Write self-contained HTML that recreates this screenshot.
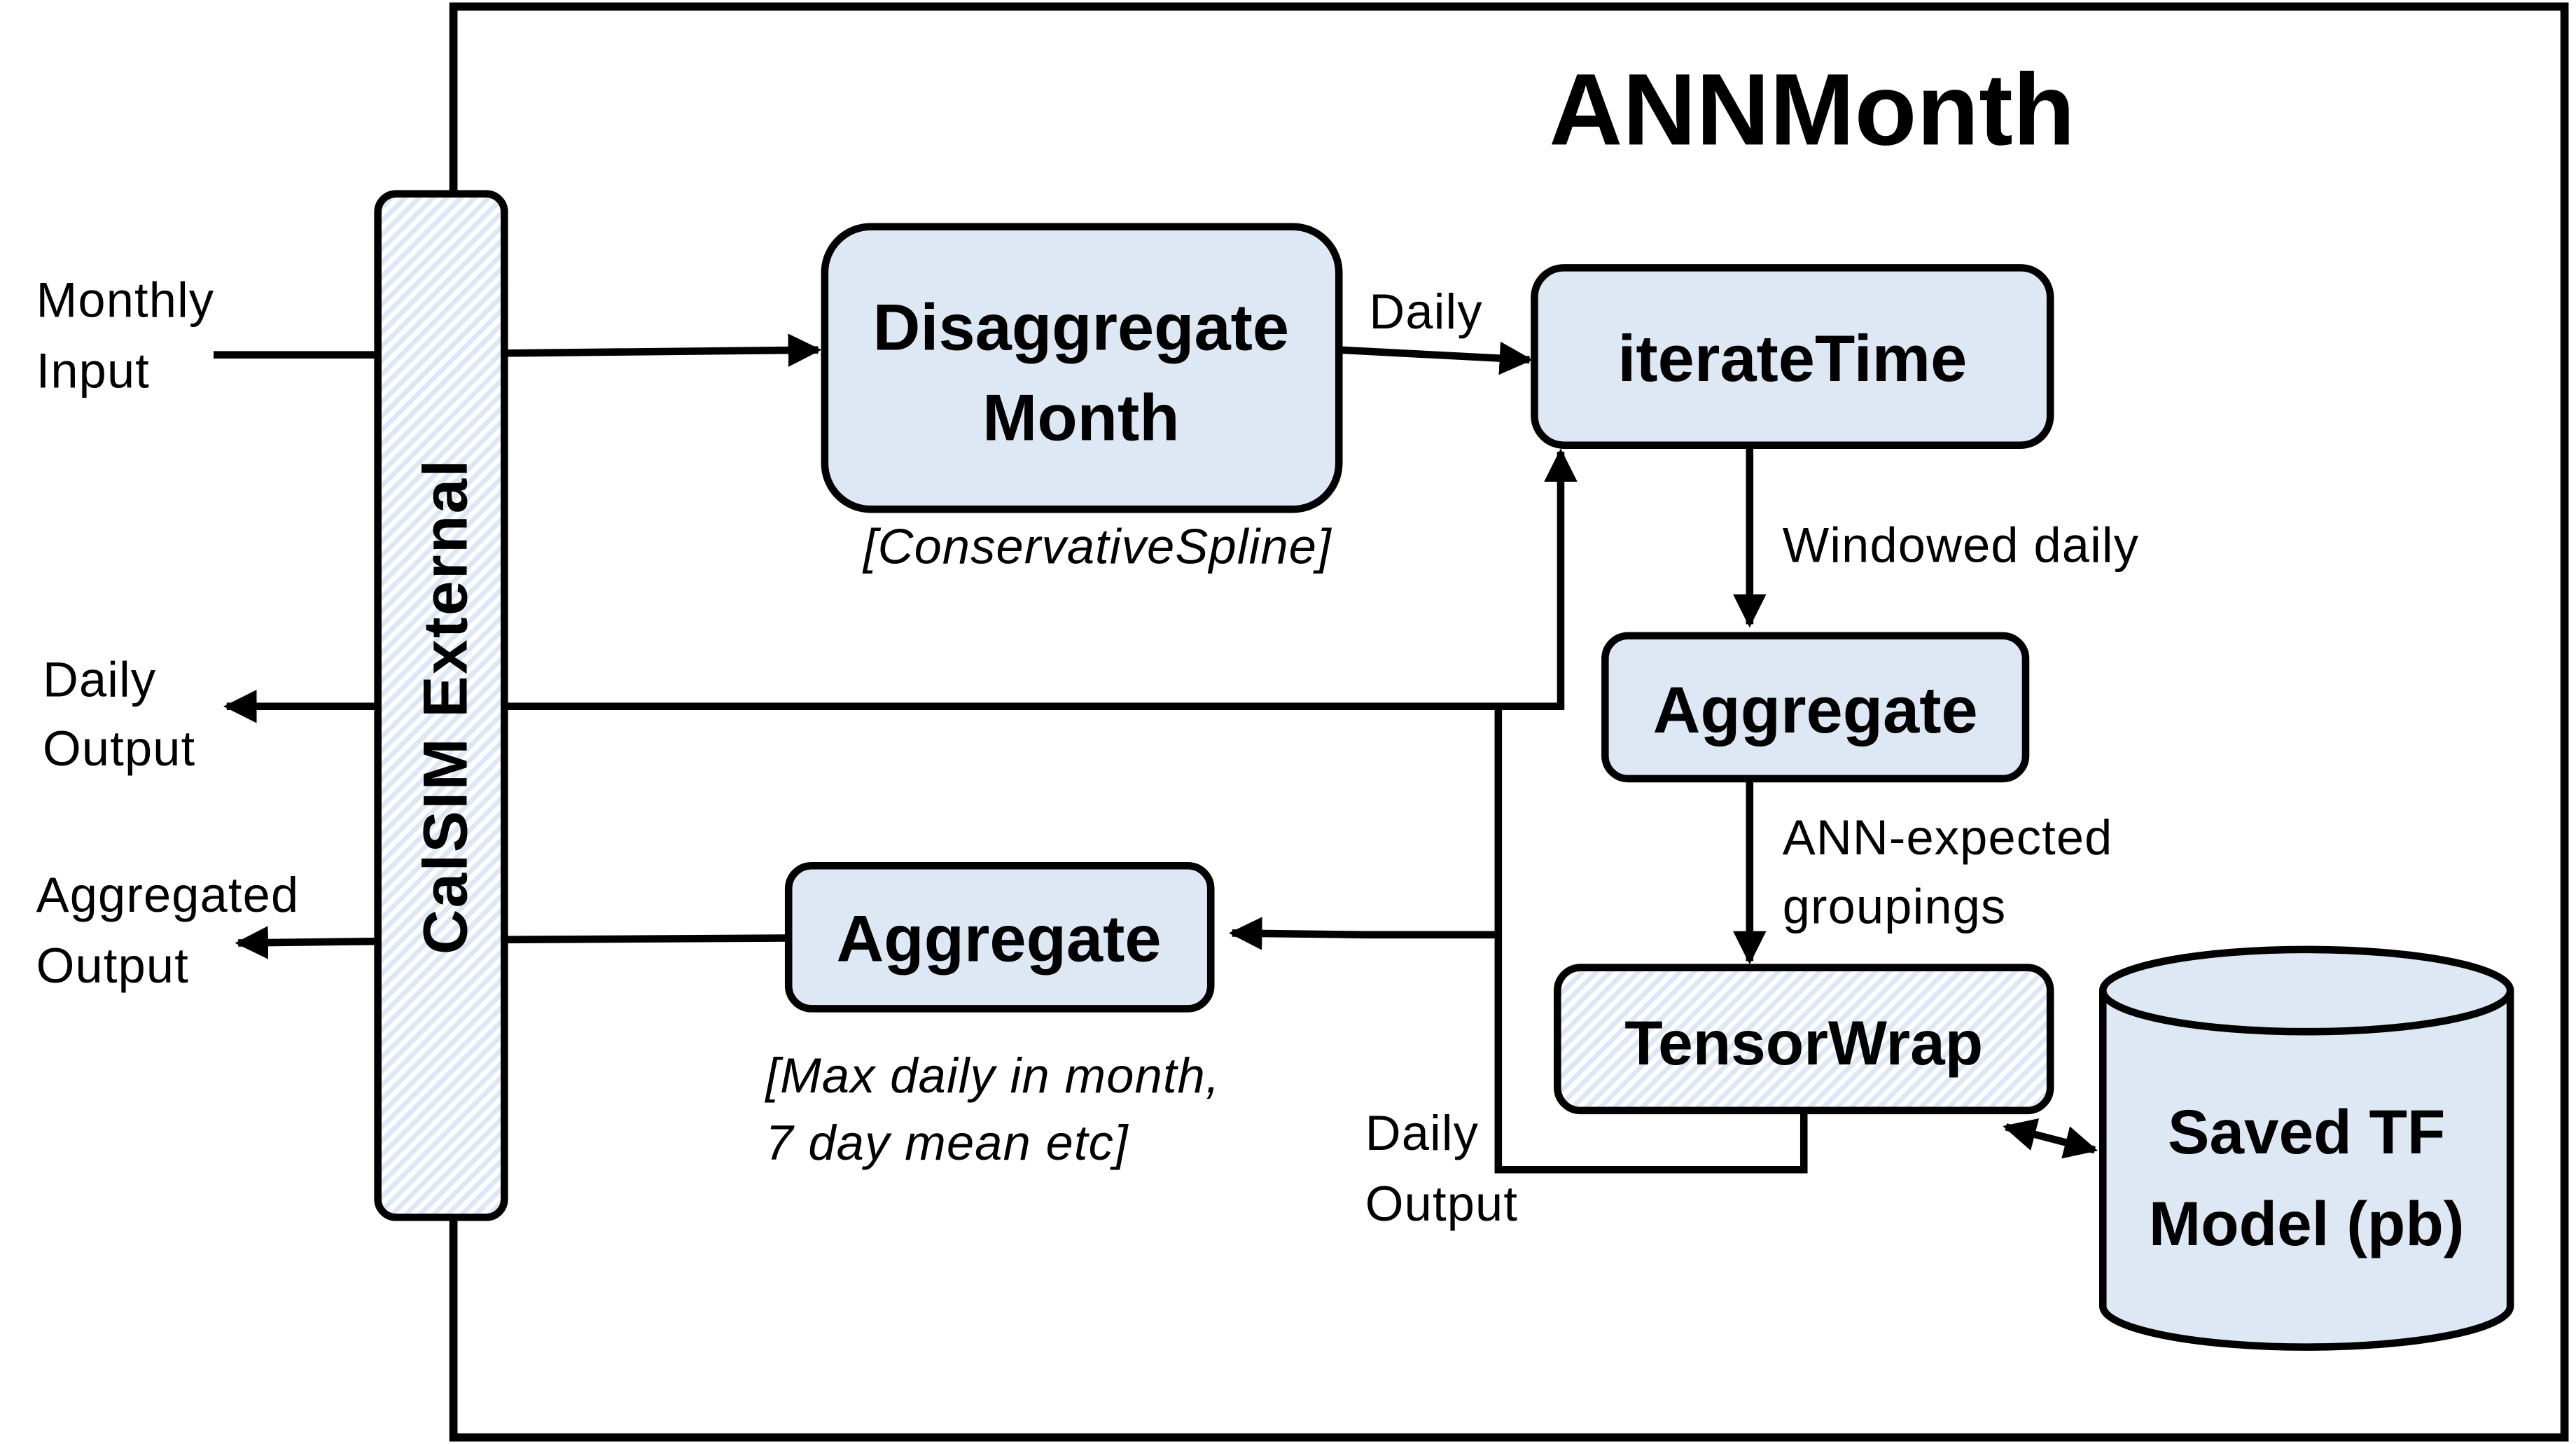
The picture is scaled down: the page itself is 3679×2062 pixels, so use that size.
<!DOCTYPE html>
<html><head><meta charset="utf-8"><style>
html,body{margin:0;padding:0;background:#fff;}
svg{display:block;}
text{font-family:"Liberation Sans",sans-serif;fill:#000;}
.b{font-weight:bold;}
.l{font-size:30px;letter-spacing:0.5px;}
.i{font-size:30px;font-style:italic;letter-spacing:0.5px;}
</style></head><body>
<svg width="3679" height="2062" viewBox="0 0 1568 879" preserveAspectRatio="none" xmlns="http://www.w3.org/2000/svg">
<defs>
<pattern id="h" width="6" height="6" patternUnits="userSpaceOnUse" patternTransform="rotate(45)">
<rect width="6" height="6" fill="#fff"/><rect width="3" height="6" fill="#dce8f5"/>
</pattern>
<marker id="a" viewBox="0 0 10 10" refX="9" refY="5" markerWidth="4.5" markerHeight="4.5" orient="auto-start-reverse"><path d="M0,0L10,5L0,10z" fill="#000"/></marker>
</defs>
<rect x="276" y="4" width="1285" height="871" fill="none" stroke="#000" stroke-width="5"/>
<text x="1103" y="88" text-anchor="middle" class="b" font-size="62">ANNMonth</text>

<g stroke="#000" stroke-width="4.5" fill="none">
<line x1="130" y1="216" x2="230" y2="216"/>
<line x1="307" y1="215" x2="498" y2="213" marker-end="url(#a)"/>
<line x1="815" y1="213" x2="931" y2="219" marker-end="url(#a)"/>
<line x1="1065" y1="271" x2="1065" y2="380" marker-end="url(#a)"/>
<line x1="1065" y1="474" x2="1065" y2="585" marker-end="url(#a)"/>
<polyline points="307,430 950,430 950,275" marker-end="url(#a)"/>
<line x1="230" y1="430" x2="138" y2="430" marker-end="url(#a)"/>
<polyline points="1098,676 1098,712 912,712 912,430"/>
<polyline points="912,569 830,569 750,568" marker-end="url(#a)"/>
<line x1="480" y1="571" x2="307" y2="572"/>
<line x1="230" y1="573" x2="145" y2="574" marker-end="url(#a)"/>
<line x1="1221" y1="686" x2="1275" y2="700" marker-start="url(#a)" marker-end="url(#a)"/>
</g>

<g stroke="#000" stroke-width="4.5">
<rect x="230" y="118" width="77" height="623" rx="11" fill="url(#h)"/>
<rect x="502" y="138" width="313" height="172" rx="28" fill="#dde8f4"/>
<rect x="934" y="163" width="314" height="108" rx="18" fill="#dde8f4"/>
<rect x="977" y="387" width="256" height="87" rx="14" fill="#dde8f4"/>
<rect x="948" y="589" width="300" height="87" rx="14" fill="url(#h)"/>
<rect x="480" y="527" width="257" height="87" rx="14" fill="#dde8f4"/>
<path d="M1280,603 L1280,795 A124,25 0 0 0 1528,795 L1528,603" fill="#dde8f4"/>
<ellipse cx="1404" cy="603" rx="124" ry="25" fill="#dde8f4"/>
</g>

<text transform="translate(284,430) rotate(-90)" text-anchor="middle" class="b" font-size="38" letter-spacing="1">CalSIM External</text>
<text x="658" y="213" text-anchor="middle" class="b" font-size="40">Disaggregate</text>
<text x="658" y="268" text-anchor="middle" class="b" font-size="40">Month</text>
<text x="668" y="343" text-anchor="middle" class="i">[ConservativeSpline]</text>
<text x="1091" y="232" text-anchor="middle" class="b" font-size="40">iterateTime</text>
<text x="1105" y="446" text-anchor="middle" class="b" font-size="40">Aggregate</text>
<text x="1098" y="648" text-anchor="middle" class="b" font-size="38">TensorWrap</text>
<text x="608" y="585" text-anchor="middle" class="b" font-size="40">Aggregate</text>
<text x="1404" y="702" text-anchor="middle" class="b" font-size="38">Saved TF</text>
<text x="1404" y="758" text-anchor="middle" class="b" font-size="38">Model (pb)</text>

<text x="868" y="200" text-anchor="middle" class="l">Daily</text>
<text x="1085" y="342" class="l">Windowed daily</text>
<text x="1085" y="520" class="l">ANN-expected</text>
<text x="1085" y="562" class="l">groupings</text>
<text x="22" y="193" class="l">Monthly</text>
<text x="22" y="236" class="l">Input</text>
<text x="26" y="424" class="l">Daily</text>
<text x="26" y="466" class="l">Output</text>
<text x="22" y="555" class="l">Aggregated</text>
<text x="22" y="598" class="l">Output</text>
<text x="466" y="665" class="i">[Max daily in month,</text>
<text x="466" y="706" class="i">7 day mean etc]</text>
<text x="831" y="700" class="l">Daily</text>
<text x="831" y="743" class="l">Output</text>
</svg>
</body></html>
